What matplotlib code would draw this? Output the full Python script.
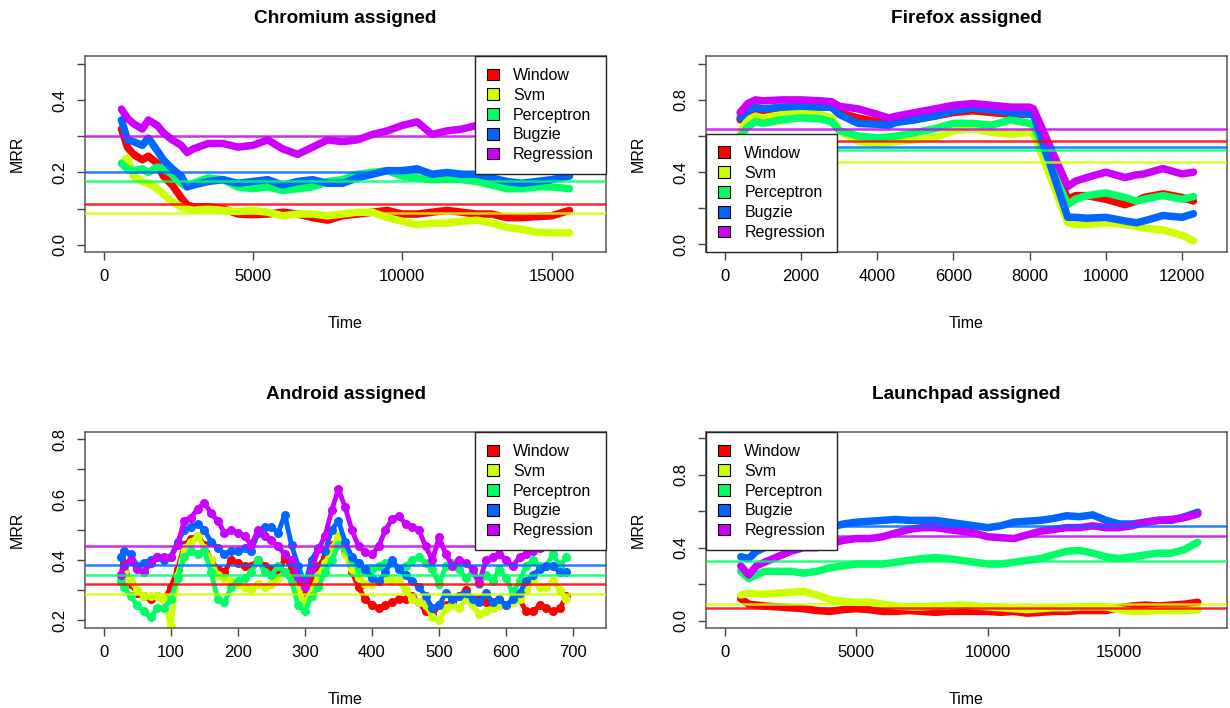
import matplotlib
matplotlib.use('Agg')
import matplotlib.pyplot as plt
from matplotlib.patches import Patch

plt.rcParams['font.family'] = ['Liberation Sans', 'DejaVu Sans']

names = ['Window', 'Svm', 'Perceptron', 'Bugzie', 'Regression']
colors = ['#FF0000', '#CCFF00', '#00FF66', '#0066FF', '#CC00FF']   # R rainbow(5)

# ---- Chromium assigned ----
chrome_t = [600, 800, 1000, 1300, 1500, 1800, 2000, 2300, 2600, 2800, 3000, 3500, 4000, 4500,
            5000, 5500, 6000, 6500, 7000, 7500, 8000, 8500, 9000, 9500, 10000, 10500, 11000,
            11500, 12000, 12500, 13000, 13500, 14000, 14500, 15000, 15600]
chrome_window = [.32, .27, .25, .235, .245, .225, .19, .165, .13, .11, .105, .105, .10, .085,
                 .083, .085, .09, .085, .075, .068, .08, .085, .09, .095, .085, .085, .09,
                 .095, .09, .085, .085, .075, .075, .078, .08, .095]
chrome_svm = [.225, .24, .19, .175, .17, .155, .14, .12, .105, .10, .095, .10, .095, .092,
              .095, .09, .08, .085, .085, .08, .085, .09, .09, .075, .065, .055, .06,
              .06, .065, .068, .06, .048, .043, .035, .033, .033]
chrome_perc = [.225, .21, .205, .21, .20, .215, .21, .195, .17, .16, .17, .185, .18, .16,
               .155, .16, .15, .155, .16, .175, .18, .195, .20, .205, .19, .185, .18,
               .18, .18, .175, .165, .155, .155, .16, .16, .155]
chrome_bugzie = [.345, .29, .285, .275, .295, .26, .235, .21, .19, .16, .165, .175, .18, .17,
                 .175, .18, .165, .175, .18, .17, .17, .185, .195, .205, .205, .21, .195,
                 .20, .195, .195, .185, .175, .17, .175, .18, .19]
chrome_regr = [.375, .35, .335, .32, .345, .33, .31, .29, .275, .255, .265, .28, .28, .27,
               .275, .29, .265, .25, .27, .29, .285, .29, .305, .315, .33, .34, .305,
               .315, .32, .33, .33, .335, .34, .34, .345, .35]
chrome_means = [.113, .087, .176, .20, .30]

# ---- Firefox assigned ----
ff_t = [400, 600, 800, 1000, 1500, 2000, 2500, 2800, 3000, 3500, 4000, 4300, 4500, 5000,
        5500, 6000, 6500, 7000, 7500, 8000, 8100, 9000, 9200, 9500, 10000, 10500, 10800,
        11000, 11500, 12000, 12300]
ff_window = [.69, .72, .74, .74, .75, .76, .76, .76, .73, .70, .68, .68, .68, .70,
             .71, .73, .74, .73, .72, .72, .72, .25, .27, .27, .25, .22, .24,
             .26, .28, .26, .24]
ff_svm = [.62, .69, .71, .70, .72, .73, .72, .70, .63, .57, .56, .565, .57, .58,
          .59, .63, .64, .62, .61, .62, .62, .12, .11, .11, .12, .11, .10,
          .09, .08, .05, .02]
ff_perc = [.60, .65, .68, .67, .69, .70, .695, .68, .63, .60, .59, .595, .60, .62,
           .64, .67, .67, .66, .69, .67, .66, .22, .25, .27, .285, .26, .24,
           .25, .27, .25, .265]
ff_bugzie = [.70, .74, .76, .75, .76, .765, .76, .76, .72, .67, .665, .66, .675, .69,
             .71, .74, .755, .745, .73, .72, .72, .15, .15, .145, .15, .13, .12,
             .13, .16, .15, .17]
ff_regr = [.73, .78, .80, .795, .80, .80, .795, .79, .765, .75, .72, .70, .71, .73,
           .75, .77, .78, .77, .76, .76, .75, .32, .35, .37, .40, .37, .385,
           .39, .42, .39, .40]
ff_means = [.571, .458, .522, .540, .639]

# ---- Android assigned ----
and_t = [25, 30, 40, 50, 60, 70, 80, 90, 100, 110, 120, 130, 140, 150, 160, 170, 180, 190,
         200, 210, 220, 230, 240, 250, 260, 270, 280, 290, 300, 310, 320, 330, 340, 350,
         360, 370, 380, 390, 400, 410, 420, 430, 440, 450, 460, 470, 480, 490, 500, 510,
         520, 530, 540, 550, 560, 570, 580, 590, 600, 610, 620, 630, 640, 650, 660, 670,
         680, 690]
and_window = [.35, .39, .32, .29, .28, .27, .28, .27, .31, .37, .45, .47, .48, .45, .40, .37,
              .36, .40, .39, .38, .38, .40, .38, .37, .35, .41, .37, .31, .28, .33, .38, .41,
              .45, .47, .43, .36, .31, .27, .25, .24, .25, .26, .27, .27, .28, .26, .23, .22,
              .25, .25, .26, .28, .30, .27, .27, .26, .25, .25, .25, .27, .27, .23, .23, .25,
              .24, .23, .24, .28]
and_svm = [.33, .36, .33, .30, .28, .28, .28, .27, .18, .35, .44, .46, .48, .44, .40, .35,
           .34, .33, .32, .31, .30, .32, .31, .32, .34, .36, .33, .30, .26, .30, .35, .39,
           .44, .48, .42, .37, .34, .32, .32, .33, .34, .33, .33, .30, .27, .26, .25, .21,
           .20, .24, .25, .24, .27, .25, .22, .23, .24, .25, .25, .26, .27, .30, .33, .31,
           .31, .33, .30, .27]
and_perc = [.33, .31, .28, .25, .23, .21, .24, .24, .27, .34, .41, .43, .42, .43, .36, .27,
            .26, .31, .33, .34, .36, .40, .36, .35, .38, .36, .33, .25, .23, .28, .31, .36,
            .40, .45, .44, .40, .37, .36, .37, .38, .39, .39, .37, .38, .40, .41, .39, .37,
            .32, .38, .39, .37, .34, .36, .32, .35, .33, .37, .34, .29, .33, .38, .40, .38,
            .38, .42, .38, .41]
and_bugzie = [.41, .43, .42, .38, .39, .40, .41, .40, .41, .46, .50, .51, .52, .50, .46, .44,
              .42, .43, .43, .44, .43, .49, .51, .51, .49, .55, .45, .38, .32, .40, .44, .43,
              .50, .53, .46, .41, .39, .37, .34, .33, .36, .40, .37, .35, .33, .31, .28, .24,
              .25, .29, .27, .28, .29, .27, .26, .29, .26, .27, .25, .27, .29, .33, .35, .37,
              .38, .38, .36, .36]
and_regr = [.35, .38, .40, .37, .36, .39, .41, .41, .41, .45, .53, .54, .57, .59, .555, .53,
            .49, .50, .49, .48, .45, .50, .48, .465, .445, .42, .40, .345, .31, .37, .435, .48,
            .565, .635, .575, .50, .445, .425, .42, .445, .50, .535, .545, .52, .51, .50, .445, .40,
            .475, .42, .38, .40, .39, .37, .325, .40, .41, .42, .40, .38, .41, .42, .43, .44,
            .45, .46, .47, .47]
and_means = [.322, .288, .349, .3835, .447]

# ---- Launchpad assigned ----
lp_t = [600, 900, 1200, 1500, 2000, 2500, 3000, 3500, 4000, 4500, 5000, 5500, 6000, 6500,
        7000, 7500, 8000, 8500, 9000, 9500, 10000, 10500, 11000, 11500, 12000, 12500, 13000,
        13500, 14000, 14500, 15000, 15500, 16000, 16500, 17000, 17500, 18000]
lp_window = [.12, .09, .085, .08, .075, .07, .065, .055, .05, .06, .065, .06, .05, .05,
             .055, .05, .045, .05, .05, .05, .05, .045, .05, .04, .045, .05, .05,
             .055, .055, .055, .07, .08, .085, .08, .085, .09, .10]
lp_svm = [.14, .15, .145, .145, .15, .155, .16, .14, .115, .105, .10, .10, .09, .08,
          .075, .075, .08, .08, .085, .08, .075, .07, .065, .06, .065, .07, .07,
          .075, .075, .075, .06, .05, .05, .055, .055, .055, .06]
lp_perc = [.27, .23, .25, .27, .27, .27, .26, .27, .29, .30, .31, .31, .31, .32,
           .33, .34, .345, .34, .33, .32, .31, .31, .32, .33, .34, .36, .38,
           .385, .37, .35, .34, .35, .36, .37, .37, .39, .43]
lp_bugzie = [.35, .34, .38, .40, .43, .46, .48, .50, .51, .53, .54, .545, .55, .555,
             .55, .55, .55, .54, .53, .52, .51, .52, .54, .545, .55, .56, .575,
             .57, .58, .55, .53, .53, .54, .55, .55, .57, .595]
lp_regr = [.30, .25, .30, .32, .35, .38, .40, .40, .42, .44, .45, .45, .46, .48,
           .50, .51, .51, .50, .49, .48, .46, .455, .45, .47, .49, .50, .51,
           .51, .52, .51, .51, .52, .54, .55, .555, .565, .585]
lp_means = [.071, .091, .329, .5205, .466]

panels = [
    dict(title='Chromium assigned', t=chrome_t,
         ys=[chrome_window, chrome_svm, chrome_perc, chrome_bugzie, chrome_regr], means=chrome_means,
         xlim=(-621, 16824), ylim=(-0.02, 0.522), xticks=[0, 5000, 10000, 15000],
         ymaj=[0.0, 0.2, 0.4], ymin=[0.1, 0.3, 0.5], leg='upper right', dots=False),
    dict(title='Firefox assigned', t=ff_t,
         ys=[ff_window, ff_svm, ff_perc, ff_bugzie, ff_regr], means=ff_means,
         xlim=(-496, 13180), ylim=(-0.042, 1.043), xticks=[0, 2000, 4000, 6000, 8000, 10000, 12000],
         ymaj=[0.0, 0.4, 0.8], ymin=[0.2, 0.6, 1.0], leg='lower left', dots=False),
    dict(title='Android assigned', t=and_t,
         ys=[and_window, and_svm, and_perc, and_bugzie, and_regr], means=and_means,
         xlim=(-28, 749), ylim=(0.175, 0.824), xticks=[0, 100, 200, 300, 400, 500, 600, 700],
         ymaj=[0.2, 0.4, 0.6, 0.8], ymin=[0.3, 0.5, 0.7], leg='upper right', dots=True),
    dict(title='Launchpad assigned', t=lp_t,
         ys=[lp_window, lp_svm, lp_perc, lp_bugzie, lp_regr], means=lp_means,
         xlim=(-723, 19110), ylim=(-0.041, 1.035), xticks=[0, 5000, 10000, 15000],
         ymaj=[0.0, 0.4, 0.8], ymin=[0.2, 0.6, 1.0], leg='upper left', dots=False),
]

W, H = 1230, 708
fig = plt.figure(figsize=(W / 100, H / 100), dpi=100)
# box positions in pixels: left, top, right, bottom
boxes = [(85, 56, 606, 252), (706, 56, 1227, 252), (85, 432, 606, 628), (706, 432, 1227, 628)]
anchors = {'upper right': (1, 1), 'lower left': (0, 0), 'upper left': (0, 1)}

for p, (l, t, r, b) in zip(panels, boxes):
    ax = fig.add_axes([l / W, 1 - b / H, (r - l) / W, (b - t) / H])
    for y, c in zip(p['ys'], colors):
        if p['dots']:
            ax.plot(p['t'], y, color=c, lw=3.5, marker='o', ms=6.5, mew=0, zorder=2)
        else:
            ax.plot(p['t'], y, color=c, lw=5.4, solid_capstyle='round',
                    solid_joinstyle='round', zorder=2)
    for m, c in zip(p['means'], colors):
        ax.axhline(m, color=c, lw=1.8, alpha=0.85, zorder=3)

    ax.set_xlim(p['xlim'])
    ax.set_ylim(p['ylim'])
    ax.set_xticks(p['xticks'])
    ax.set_yticks(p['ymaj'])
    ax.set_yticks(p['ymin'], minor=True)
    ax.set_yticklabels(['%.1f' % v for v in p['ymaj']])
    ax.tick_params(axis='both', which='both', direction='out', length=5.5, width=1,
                   color='#444444', labelsize=12, pad=7)
    ax.tick_params(axis='y', labelrotation=90)
    for lbl in ax.get_yticklabels():
        lbl.set_va('center')
    for s in ax.spines.values():
        s.set_color('#555555')
        s.set_linewidth(1.1)

    ax.set_title(p['title'], fontsize=13.7, fontweight='bold', pad=24)
    ax.set_xlabel('Time', fontsize=11.5)
    ax.set_ylabel('MRR', fontsize=11.5)
    ax.xaxis.set_label_coords(0.5, -0.325)
    ax.yaxis.set_label_coords(-0.115, 0.5)

    handles = [Patch(facecolor=c, edgecolor='black', lw=0.8) for c in colors]
    leg = ax.legend(handles, names, loc=p['leg'], bbox_to_anchor=anchors[p['leg']],
                    borderaxespad=0, fancybox=False, framealpha=1, edgecolor='#222222',
                    fontsize=11.5, handlelength=0.75, handleheight=0.75,
                    handletextpad=0.9, labelspacing=0.3, borderpad=0.75)
    leg.get_frame().set_linewidth(1.0)
    leg.set_zorder(5)

fig.savefig('out.png', dpi=100)
